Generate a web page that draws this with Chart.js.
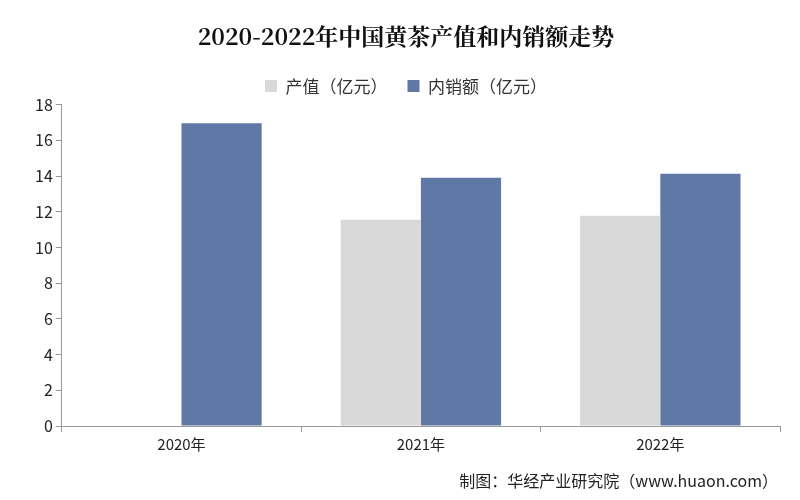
<!DOCTYPE html>
<html><head><meta charset="utf-8">
<script src="https://cdn.jsdelivr.net/npm/chart.js@4/dist/chart.umd.min.js"></script>
<style>body{margin:0;background:#fff}#w{width:800px;height:500px;position:relative}
#src{position:absolute;right:22px;bottom:8px;font:16px "Noto Sans CJK SC";color:#222}</style>
</head><body><div id="w"><canvas id="c" width="800" height="500"></canvas><div id="src">制图：华经产业研究院（www.huaon.com）</div></div>
<script>
const categories=["2020年","2021年","2022年"];
const outputValue=[null,11.55,11.78];
const domesticSales=[16.95,13.9,14.13];
const seriesNames=["产值（亿元）","内销额（亿元）"];
new Chart(document.getElementById('c'),{type:'bar',
data:{labels:categories,datasets:[
{label:seriesNames[0],data:outputValue,backgroundColor:'#d9d9d9'},
{label:seriesNames[1],data:domesticSales,backgroundColor:'#6078a6'}]},
options:{responsive:false,animation:false,
layout:{padding:{left:32,right:20,bottom:44,top:4}},
datasets:{bar:{categoryPercentage:0.67,barPercentage:1}},
plugins:{title:{display:true,text:'2020-2022年中国黄茶产值和内销额走势',font:{family:'Noto Serif CJK SC, Noto Sans CJK SC',size:23,weight:'bold'},color:'#111',padding:{top:18,bottom:8}},
legend:{labels:{boxWidth:12,boxHeight:12,font:{family:'Noto Sans CJK SC',size:17},color:'#333',padding:20}},
tooltip:{enabled:false}},
scales:{x:{grid:{display:true,drawOnChartArea:false,color:'#999',tickLength:6},border:{color:'#999'},ticks:{font:{family:'Noto Sans CJK SC',size:15},color:'#222'}},
y:{min:0,max:18,ticks:{stepSize:2,font:{size:16,family:'Noto Sans CJK SC'},color:'#222'},grid:{display:true,drawOnChartArea:false,color:'#999',tickLength:6},border:{color:'#999'}}}}});
</script></body></html>
